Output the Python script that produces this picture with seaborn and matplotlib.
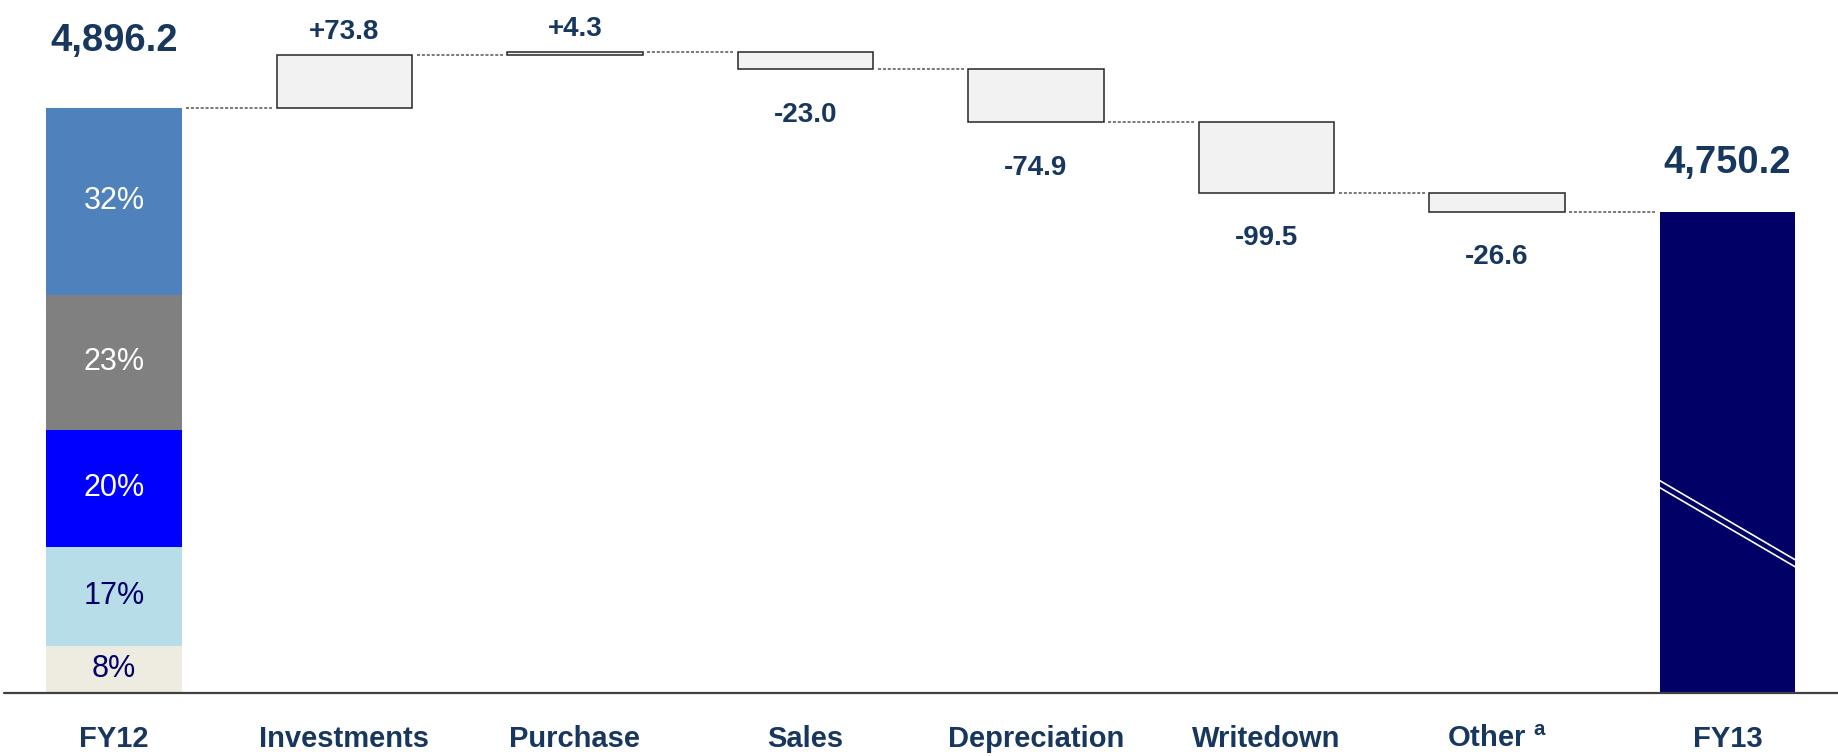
import numpy as np
import matplotlib
matplotlib.use("Agg")
import matplotlib.pyplot as plt
import seaborn as sns

# ---------------- data ----------------
categories = ["FY12", "Investments", "Purchase", "Sales", "Depreciation",
              "Writedown", "Other", "FY13"]
tick_labels = ["FY12", "Investments", "Purchase", "Sales", "Depreciation",
               "Writedown", "Other $^{\\mathregular{a}}$", "FY13"]
start_total = 4896.2
end_total = 4750.2
total_labels = ["4,896.2", "4,750.2"]
delta_categories = ["Investments", "Purchase", "Sales", "Depreciation",
                    "Writedown", "Other"]
delta_values = [73.8, 4.3, -23.0, -74.9, -99.5, -26.6]
delta_labels = ["+73.8", "+4.3", "-23.0", "-74.9", "-99.5", "-26.6"]
share_values = [8, 17, 20, 23, 32]          # FY12 composition, bottom -> top
share_labels = ["8%", "17%", "20%", "23%", "32%"]

# ---------------- style ----------------
share_colors = ["#EEEBE0", "#B7DDE8", "#0000FF", "#808080", "#4F81BD"]
share_text_colors = ["#000066", "#000066", "white", "white", "white"]
LABEL_COLOR = "#17375E"
BOX_FACE = "#F2F2F2"
BOX_EDGE = "#262626"
END_COLOR = "#000066"
BAR_W = 0.589
AXIS_FLOOR = 4072.9        # broken value axis starts here
PX_PER_UNIT = 0.7103
W_PX, H_PX = 1838, 756
BASE_PX = 692.7            # baseline position from top (pixels)
X0_PX, STEP_PX = 114.0, 230.5
TOTAL_OFFSETS_PT = [48.5, 35]

sns.set_theme(style="white")
plt.rcParams["font.family"] = ["Liberation Sans", "DejaVu Sans"]
plt.rcParams["mathtext.fontset"] = "custom"
plt.rcParams["mathtext.rm"] = "Liberation Sans"
plt.rcParams["mathtext.bf"] = "Liberation Sans:bold"

fig = plt.figure(figsize=(W_PX / 100, H_PX / 100), dpi=100)
ax = fig.add_axes([0, (H_PX - BASE_PX) / H_PX, 1, BASE_PX / H_PX])

common = dict(order=categories, width=BAR_W, errorbar=None, saturation=1, ax=ax)

# FY12 stacked composition
visible = start_total - AXIS_FLOOR
shares = np.array(share_values, dtype=float) / sum(share_values)
seg_h = shares * visible
seg_bottom = AXIS_FLOOR + np.concatenate([[0], np.cumsum(seg_h)[:-1]])
for h, b, c in zip(seg_h, seg_bottom, share_colors):
    sns.barplot(x=["FY12"], y=[h], bottom=b, color=c, linewidth=0, **common)

# floating delta boxes
cum = start_total + np.cumsum(delta_values)
prev = np.concatenate([[start_total], cum[:-1]])
lower = np.minimum(prev, cum)
heights = np.abs(delta_values)
sns.barplot(x=delta_categories, y=heights, bottom=lower, color=BOX_FACE,
            edgecolor=BOX_EDGE, linewidth=1.1, **common)

# FY13 total
sns.barplot(x=["FY13"], y=[end_total - AXIS_FLOOR], bottom=AXIS_FLOOR,
            color=END_COLOR, linewidth=0, **common)

ylim_top = AXIS_FLOOR + BASE_PX / PX_PER_UNIT
ax.set_ylim(AXIS_FLOOR, ylim_top)
ax.set_xlim(-X0_PX / STEP_PX, (W_PX - X0_PX) / STEP_PX)

# connectors
levels = np.concatenate([[start_total], cum])
gap = 0.02
for i, lv in enumerate(levels):
    ax.plot([i + BAR_W / 2 + gap, i + 1 - BAR_W / 2 - gap], [lv, lv],
            color="#555555", lw=1.1, ls=(0, (2, 1.2)))

# axis-break mark on FY13
end_vis = end_total - AXIS_FLOOR
for off in (0.0, 0.0146):
    ax.plot([7 - BAR_W / 2, 7 + BAR_W / 2],
            [AXIS_FLOOR + (0.441 - off) * end_vis, AXIS_FLOOR + (0.276 - off) * end_vis],
            color="white", lw=1.2)

# share labels
for h, b, lab, tc in zip(seg_h, seg_bottom, share_labels, share_text_colors):
    ax.text(0, b + h / 2, lab, ha="center", va="center", color=tc, fontsize=22)

# total labels
for xi, val, lab, off in zip([0, 7], [start_total, end_total], total_labels,
                             TOTAL_OFFSETS_PT):
    ax.annotate(lab, xy=(xi, val), xytext=(0, off), textcoords="offset points",
                ha="center", va="center", fontsize=27.5, fontweight="bold",
                color=LABEL_COLOR)

# delta labels
for i, (d, lab) in enumerate(zip(delta_values, delta_labels)):
    xi = i + 1
    if d >= 0:
        y, off = max(prev[i], cum[i]), 17
    else:
        y, off = lower[i], -33
    ax.annotate(lab, xy=(xi, y), xytext=(0, off), textcoords="offset points",
                ha="center", va="center", fontsize=20, fontweight="bold",
                color=LABEL_COLOR)

# baseline and ticks
sns.despine(ax=ax, left=True, bottom=True, top=True, right=True)
ax.axhline(AXIS_FLOOR, xmin=0.002, xmax=1, color="#404040", lw=1.6, clip_on=False)
ax.set_yticks([])
ax.set_xticks(range(len(categories)))
ax.set_xticklabels(tick_labels, fontsize=21, fontweight="bold", color=LABEL_COLOR)
ax.tick_params(axis="x", length=0, pad=33)
for t in ax.get_xticklabels():
    t.set_va("center")
ax.set_xlabel("")
ax.set_ylabel("")
ax.patch.set_alpha(0)

fig.savefig("out.png", dpi=100)
